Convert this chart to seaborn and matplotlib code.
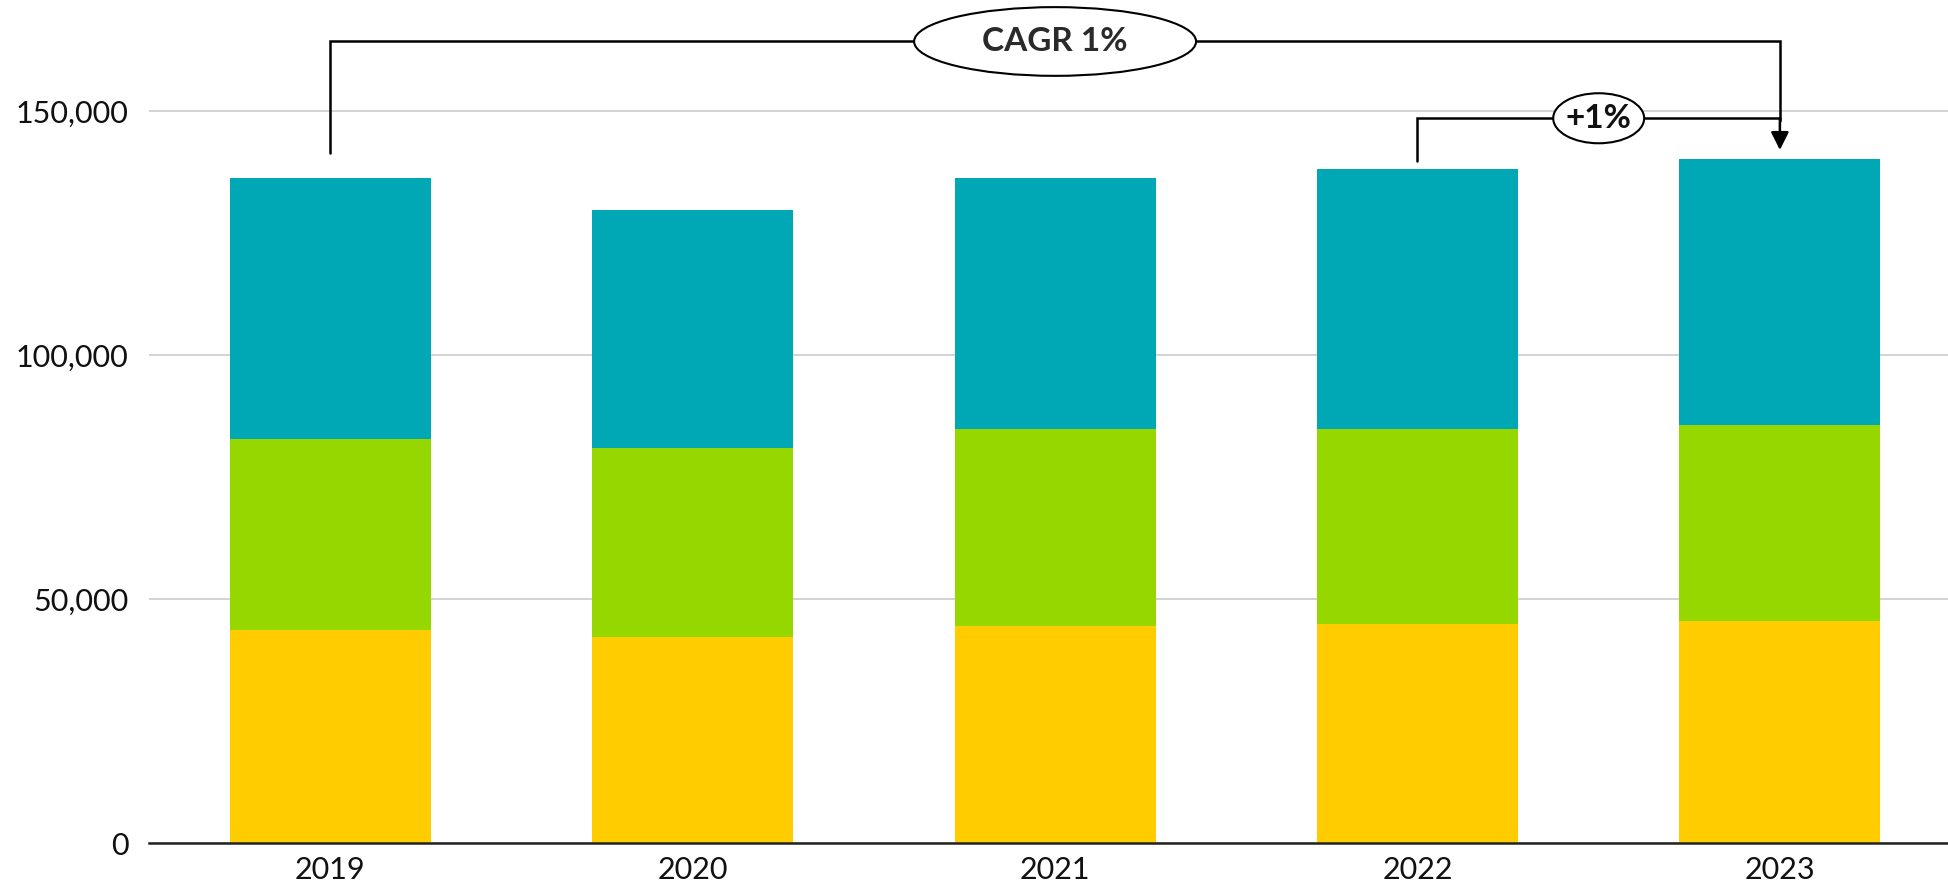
import matplotlib
matplotlib.use("Agg")
import matplotlib.pyplot as plt
from matplotlib.patches import Ellipse
import seaborn as sns
import numpy as np
import pandas as pd

# ---- data ----
years = ["2019", "2020", "2021", "2022", "2023"]
yellow = [43650, 42280, 44590, 44900, 45620]
green = [39250, 38720, 40310, 40060, 40100]
teal = [53370, 48780, 51500, 53210, 54500]
yticks = [0, 50000, 100000, 150000]
ytick_labels = ["0", "50,000", "100,000", "150,000"]
cagr_label = "CAGR 1%"
yoy_label = "+1%"

COL_Y = "#FFCC00"
COL_G = "#97D700"
COL_T = "#00A8B5"

sns.set_theme(style="white")
plt.rcParams["font.family"] = ["Lato", "DejaVu Sans"]

fig = plt.figure(figsize=(19.49, 8.88), dpi=100)
ax = fig.add_axes([0.0765, 0.0503, 1.0062 - 0.0765, 1 - 0.0503])

df = pd.DataFrame({"year": years, "y": yellow, "g": green, "t": teal})
df["cum_g"] = df["y"] + df["g"]
df["total"] = df["cum_g"] + df["t"]

W = 0.555
sns.barplot(data=df, x="year", y="total", color=COL_T, saturation=1, width=W,
            order=years, ax=ax, linewidth=0, zorder=2)
sns.barplot(data=df, x="year", y="cum_g", color=COL_G, saturation=1, width=W,
            order=years, ax=ax, linewidth=0, zorder=3)
sns.barplot(data=df, x="year", y="y", color=COL_Y, saturation=1, width=W,
            order=years, ax=ax, linewidth=0, zorder=4)

ymax = 172800
ax.set_xlim(-0.5, len(years) - 0.5)
ax.set_ylim(0, ymax)
ax.set_xlabel("")
ax.set_ylabel("")
ax.set_yticks(yticks)
ax.set_yticklabels(ytick_labels)
for s in ["top", "right", "left"]:
    ax.spines[s].set_visible(False)
ax.spines["bottom"].set_color("#222222")
ax.spines["bottom"].set_linewidth(1.8)
ax.spines["bottom"].set_zorder(6)
ax.yaxis.grid(True, color="#cccccc", linewidth=1.2, zorder=0)
ax.set_axisbelow(True)
ax.tick_params(axis="both", length=0, labelsize=22, labelcolor="#111111")
ax.tick_params(axis="y", pad=15)
ax.tick_params(axis="x", pad=9)
for lab in ax.get_xticklabels() + ax.get_yticklabels():
    lab.set_fontweight("normal")
    lab.set_color("#111111")

# ---- annotations ----
totals = df["total"].tolist()
lw = 1.8
y_top = 164300
y_small = 148570
y_tip = totals[-1] + 1850
x0, x1, x2 = 0, len(years) - 2, len(years) - 1

# big CAGR bracket
ax.plot([x0, x0, x2, x2], [totals[0] + 5200, y_top, y_top, y_tip + 6000],
        color="black", lw=lw, zorder=7, solid_joinstyle="miter", clip_on=False)
ax.annotate("", xy=(x2, y_tip), xytext=(x2, y_tip + 6500),
            arrowprops=dict(arrowstyle="-|>,head_length=0.6,head_width=0.3",
                            color="black", lw=lw, mutation_scale=18,
                            shrinkA=0, shrinkB=0), zorder=7)
e1 = Ellipse(((x0 + x2) / 2, y_top), width=0.778, height=14080,
             facecolor="white", edgecolor="black", lw=1.5, zorder=8)
ax.add_patch(e1)
ax.text((x0 + x2) / 2, y_top, cagr_label, ha="center", va="center",
        fontsize=24, fontweight="bold", color="#2a2a2a", zorder=9)

# small YoY bracket
ax.plot([x1, x1, x2], [totals[x1] + 1700, y_small, y_small],
        color="black", lw=lw, zorder=7, solid_joinstyle="miter")
e2 = Ellipse(((x1 + x2) / 2, y_small), width=0.251, height=10250,
             facecolor="white", edgecolor="black", lw=1.5, zorder=8)
ax.add_patch(e2)
ax.text((x1 + x2) / 2, y_small, yoy_label, ha="center", va="center",
        fontsize=24, fontweight="bold", color="#111111", zorder=9)

fig.savefig("out.png", dpi=100)
